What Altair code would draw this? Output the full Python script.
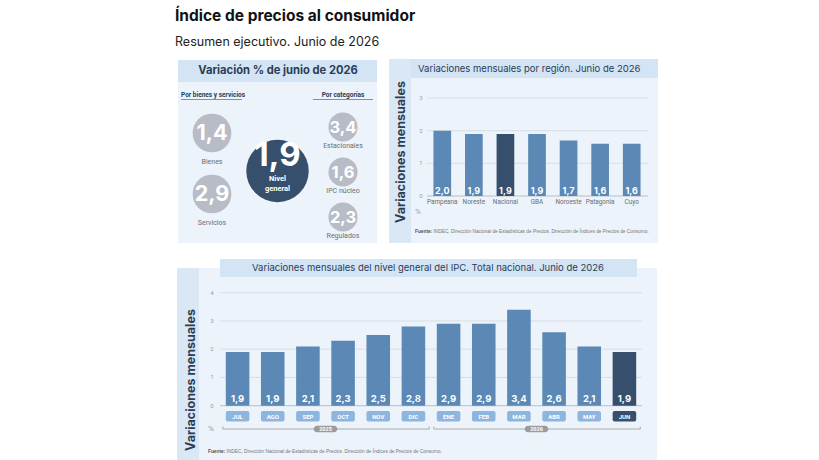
import altair as alt
import pandas as pd

# ------------------------------------------------------------------ data
titulo = "Índice de precios al consumidor"
subtitulo = "Resumen ejecutivo. Junio de 2026"

cabecera_resumen = "Variación % de junio de 2026"
grupos = ["Por bienes y servicios", "Nivel general", "Por categorías"]
bs_labels = ["Bienes", "Servicios"]
bs_values = [1.4, 2.9]
cat_labels = ["Estacionales", "IPC núcleo", "Regulados"]
cat_values = [3.4, 1.6, 2.3]
general_labels = ["Nivel general"]
general_values = [1.9]

cabecera_region = "Variaciones mensuales por región. Junio de 2026"
regiones = ["Pampeana", "Noreste", "Nacional", "GBA", "Noroeste", "Patagonia", "Cuyo"]
region_values = [2.0, 1.9, 1.9, 1.9, 1.7, 1.6, 1.6]
region_destacada = "Nacional"
region_ticks = [0, 1, 2, 3]

cabecera_meses = "Variaciones mensuales del nivel general del IPC. Total nacional. Junio de 2026"
meses = ["JUL", "AGO", "SEP", "OCT", "NOV", "DIC", "ENE", "FEB", "MAR", "ABR", "MAY", "JUN"]
mes_values = [1.9, 1.9, 2.1, 2.3, 2.5, 2.8, 2.9, 2.9, 3.4, 2.6, 2.1, 1.9]
anios = ["2025"] * 6 + ["2026"] * 6
mes_destacado = "JUN"
mes_ticks = [0, 1, 2, 3, 4]

eje_titulo = "Variaciones mensuales"
fuente_a = "Fuente:"
fuente_b = "INDEC, Dirección Nacional de Estadísticas de Precios. Dirección de Índices de Precios de Consumo."

# ------------------------------------------------------------------ style
W, H = 819, 460
PANEL = "#ecf3fa"
HEAD = "#d3e4f4"
STRIP = "#dae7f4"
BAR = "#5b88b4"
DARK = "#364f6c"
BOX = "#8db5de"
GRAYC = "#b8bcc6"
TXT = "#2b3d55"
GRID = "#d3d9e0"
BASE = "#a9b1ba"
LBL = "#6b6f75"
FT = "Inter"
FC = "Roboto"

one = pd.DataFrame({"k": [0]})
fmt = "replace(format(datum.v, '.1f'), '.', ',')"


def box(x1, y1, x2, y2, color, r=0):
    return alt.Chart(one).mark_rect(color=color, cornerRadius=r).encode(
        x=alt.value(x1), x2=alt.value(x2), y=alt.value(y1), y2=alt.value(y2))


def line(x1, y1, x2, y2, color, w=1):
    return alt.Chart(one).mark_rule(color=color, strokeWidth=w).encode(
        x=alt.value(x1), x2=alt.value(x2), y=alt.value(y1), y2=alt.value(y2))


def txt(s, x, y, size, color, weight="normal", align="left", font=FT, angle=0):
    return alt.Chart(one).mark_text(
        text=s, fontSize=size, color=color, fontWeight=weight, align=align,
        baseline="middle", font=font, angle=angle).encode(x=alt.value(x), y=alt.value(y))


deco = [
    # titles
    txt(titulo, 175, 16, 15.5, "#111111", "bold"),
    txt(subtitulo, 175, 42, 12.5, "#222222"),
    # top-left panel
    box(178, 60, 377, 243, PANEL),
    box(178, 60, 377, 82, HEAD),
    txt(cabecera_resumen, 278, 71, 11.2, TXT, "bold", "center"),
    txt(grupos[0], 181, 94.5, 6.5, TXT, "bold", "left", FC),
    line(181, 99.5, 242, 99.5, "#8a9099"),
    txt(grupos[2], 343, 94.5, 6.5, TXT, "bold", "center", FC),
    line(313, 99.5, 373, 99.5, "#8a9099"),
    # top-right panel
    box(389, 59, 658, 243, PANEL),
    box(389, 59, 411, 243, STRIP),
    box(411, 59, 658, 78, HEAD),
    txt(cabecera_region, 418, 69, 9.5, TXT),
    txt(eje_titulo, 401, 152, 12.5, TXT, "bold", "center", FT, 270),
    txt("%", 418, 212, 8, "#9aa0a6", "normal", "center", FC),
    txt(fuente_a, 415, 232, 4.8, "#555555", "bold", "left", "Liberation Sans"),
    txt(fuente_b, 433.5, 232, 4.8, "#777777", "normal", "left", "Liberation Sans"),
    # bottom panel
    box(177, 268, 657, 460, PANEL),
    box(177, 268, 199, 460, STRIP),
    box(220, 259, 637, 277, HEAD),
    txt(cabecera_meses, 428, 268, 9.5, TXT, "normal", "center"),
    txt(eje_titulo, 191, 380, 12.5, TXT, "bold", "center", FT, 270),
    txt("%", 211, 429, 8, "#9aa0a6", "normal", "center", FC),
    txt(fuente_a, 208, 452, 4.8, "#555555", "bold", "left", "Liberation Sans"),
    txt(fuente_b, 226.5, 452, 4.8, "#777777", "normal", "left", "Liberation Sans"),
]

# ------------------------------------------------------------------ circles
gx = alt.Scale(type="point", domain=grupos, range=[212, 343], padding=0)


def circle_group(grupo, labels, values, yrange, size, fsize, color, label_dy):
    df = pd.DataFrame({"grupo": grupo, "etiqueta": labels, "v": values})
    ys = alt.Scale(type="point", domain=labels, range=yrange, padding=0)
    base = alt.Chart(df).transform_calculate(t=fmt).encode(
        x=alt.X("grupo:N", scale=gx, axis=None),
        y=alt.Y("etiqueta:N", scale=ys, axis=None))
    layers = [
        base.mark_circle(size=size, color=color, opacity=1),
    ]
    if label_dy is not None:
        layers.append(base.mark_text(font=FT, fontWeight="bold", fontSize=fsize, color="white",
                                     baseline="middle", dy=1).encode(text="t:N"))
        layers.append(base.mark_text(font=FC, fontSize=7, color=LBL, baseline="middle",
                                     dy=label_dy).encode(text="etiqueta:N"))
    else:
        layers.append(base.mark_text(font=FT, fontWeight="bold", fontSize=fsize, color="white",
                                     baseline="middle", dy=-15).encode(text="t:N"))
        layers.append(base.mark_text(font=FC, fontWeight="bold", fontSize=7.5, color="white",
                                     baseline="middle", dy=8, lineHeight=9.5).encode(
            text=alt.value(["Nivel", "general"])))
    return alt.layer(*layers)


circ_bs = circle_group(grupos[0], bs_labels, bs_values, [133, 194], 1500, 21.5, GRAYC, 29)
circ_cat = circle_group(grupos[2], cat_labels, cat_values, [127, 217], 850, 16.5, GRAYC, 18.5)
circ_gen = circle_group(grupos[1], general_labels, general_values, [171, 171], 3900, 33, DARK, None)

# ------------------------------------------------------------------ region chart
df_r = pd.DataFrame({"region": regiones, "v": region_values})
xr = alt.Scale(type="band", domain=regiones, range=[426.5, 647.5], paddingInner=0.44, paddingOuter=0.22)
yr = alt.Scale(domain=[0, 3], range=[196, 98], nice=False, zero=True)
df_rt = pd.DataFrame({"tick": region_ticks})

grid_r = alt.Chart(df_rt).mark_rule(strokeWidth=0.8).encode(
    y=alt.Y("tick:Q", scale=yr, axis=None), x=alt.value(427), x2=alt.value(648),
    color=alt.condition(alt.datum.tick == 0, alt.value(BASE), alt.value(GRID)))
ticks_r = alt.Chart(df_rt).mark_text(fontSize=6, color="#9aa0a6", font=FC, align="center").encode(
    y=alt.Y("tick:Q", scale=yr, axis=None), x=alt.value(421), text="tick:Q")
bars_r = alt.Chart(df_r).mark_bar().encode(
    x=alt.X("region:N", scale=xr, axis=None),
    y=alt.Y("v:Q", scale=yr, axis=None),
    color=alt.condition(alt.datum.region == region_destacada, alt.value(DARK), alt.value(BAR)))
vals_r = alt.Chart(df_r).transform_calculate(t=fmt, cero="0").mark_text(
    font=FT, fontWeight="bold", fontSize=9, color="white", baseline="middle", dy=-5.5).encode(
    x=alt.X("region:N", scale=xr, axis=None),
    y=alt.Y("cero:Q", scale=yr, axis=None), text="t:N")
cats_r = alt.Chart(df_r).mark_text(font=FC, fontSize=6.4, color=LBL, baseline="middle").encode(
    x=alt.X("region:N", scale=xr, axis=None), y=alt.value(202), text="region:N")
panel_r = alt.layer(grid_r, ticks_r, bars_r, vals_r, cats_r)

# ------------------------------------------------------------------ monthly chart
df_m = pd.DataFrame({"mes": meses, "v": mes_values, "anio": anios, "idx": list(range(len(meses)))})
xm = alt.Scale(type="band", domain=meses, range=[220, 642], paddingInner=0.33, paddingOuter=0.165)
ym = alt.Scale(domain=[0, 4], range=[405.7, 292.7], nice=False, zero=True)
df_mt = pd.DataFrame({"tick": mes_ticks})

grid_m = alt.Chart(df_mt).mark_rule(strokeWidth=0.8).encode(
    y=alt.Y("tick:Q", scale=ym, axis=None), x=alt.value(220), x2=alt.value(642),
    color=alt.condition(alt.datum.tick == 0, alt.value(BASE), alt.value(GRID)))
ticks_m = alt.Chart(df_mt).mark_text(fontSize=6, color="#9aa0a6", font=FC, align="center").encode(
    y=alt.Y("tick:Q", scale=ym, axis=None), x=alt.value(212), text="tick:Q")
bars_m = alt.Chart(df_m).mark_bar().encode(
    x=alt.X("mes:N", scale=xm, axis=None),
    y=alt.Y("v:Q", scale=ym, axis=None),
    color=alt.condition(alt.datum.mes == mes_destacado, alt.value(DARK), alt.value(BAR)))
vals_m = alt.Chart(df_m).transform_calculate(t=fmt, cero="0").mark_text(
    font=FT, fontWeight="bold", fontSize=9.5, color="white", baseline="middle", dy=-6.5).encode(
    x=alt.X("mes:N", scale=xm, axis=None),
    y=alt.Y("cero:Q", scale=ym, axis=None), text="t:N")
boxes_m = alt.Chart(df_m).mark_bar(cornerRadius=2).encode(
    x=alt.X("mes:N", scale=xm, axis=None), y=alt.value(411), y2=alt.value(421.5),
    color=alt.condition(alt.datum.mes == mes_destacado, alt.value(DARK), alt.value(BOX)))
mlab_m = alt.Chart(df_m).mark_text(font=FC, fontWeight="bold", fontSize=6, color="white",
                                   baseline="middle").encode(
    x=alt.X("mes:N", scale=xm, axis=None), y=alt.value(416.5), text="mes:N")
panel_m = alt.layer(grid_m, ticks_m, bars_m, vals_m, boxes_m, mlab_m)

# year brackets (quantitative index scale aligned with the band scale)
xq = alt.Scale(domain=[-0.5, len(meses) - 0.5], range=[220, 642], nice=False, zero=False)
yb = alt.Chart(df_m).transform_aggregate(
    ini="min(idx)", fin="max(idx)", groupby=["anio"]).transform_calculate(
    a="datum.ini - 0.42", b="datum.fin + 0.45", c="(datum.ini + datum.fin) / 2")
year_line = yb.mark_rule(color="#a9abae", strokeWidth=1).encode(
    x=alt.X("a:Q", scale=xq, axis=None), x2="b:Q", y=alt.value(429))
year_t1 = yb.mark_rule(color="#a9abae", strokeWidth=1).encode(
    x=alt.X("a:Q", scale=xq, axis=None), y=alt.value(426.5), y2=alt.value(429))
year_t2 = yb.mark_rule(color="#a9abae", strokeWidth=1).encode(
    x=alt.X("b:Q", scale=xq, axis=None), y=alt.value(426.5), y2=alt.value(429))
pill = "M-0.72,-0.28 L0.72,-0.28 A0.28,0.28 0 0 1 0.72,0.28 L-0.72,0.28 A0.28,0.28 0 0 1 -0.72,-0.28 Z"
year_pill = yb.mark_point(shape=pill, filled=True, color="#9b9b9b", opacity=1, size=560, strokeWidth=0).encode(
    x=alt.X("c:Q", scale=xq, axis=None), y=alt.value(429))
year_txt = yb.mark_text(font=FC, fontWeight="bold", fontSize=5.5, color="white", baseline="middle").encode(
    x=alt.X("c:Q", scale=xq, axis=None), y=alt.value(429.3), text="anio:N")
panel_y = alt.layer(year_line, year_t1, year_t2, year_pill, year_txt)

chart = alt.layer(
    *deco, circ_bs, circ_cat, circ_gen, panel_r, panel_m, panel_y
).resolve_scale(x="independent", y="independent").properties(
    width=W, height=H, autosize="none", padding=0
).configure_view(strokeWidth=0, fill="white")

chart.save("out.html", embed_options={"renderer": "svg", "actions": False})
